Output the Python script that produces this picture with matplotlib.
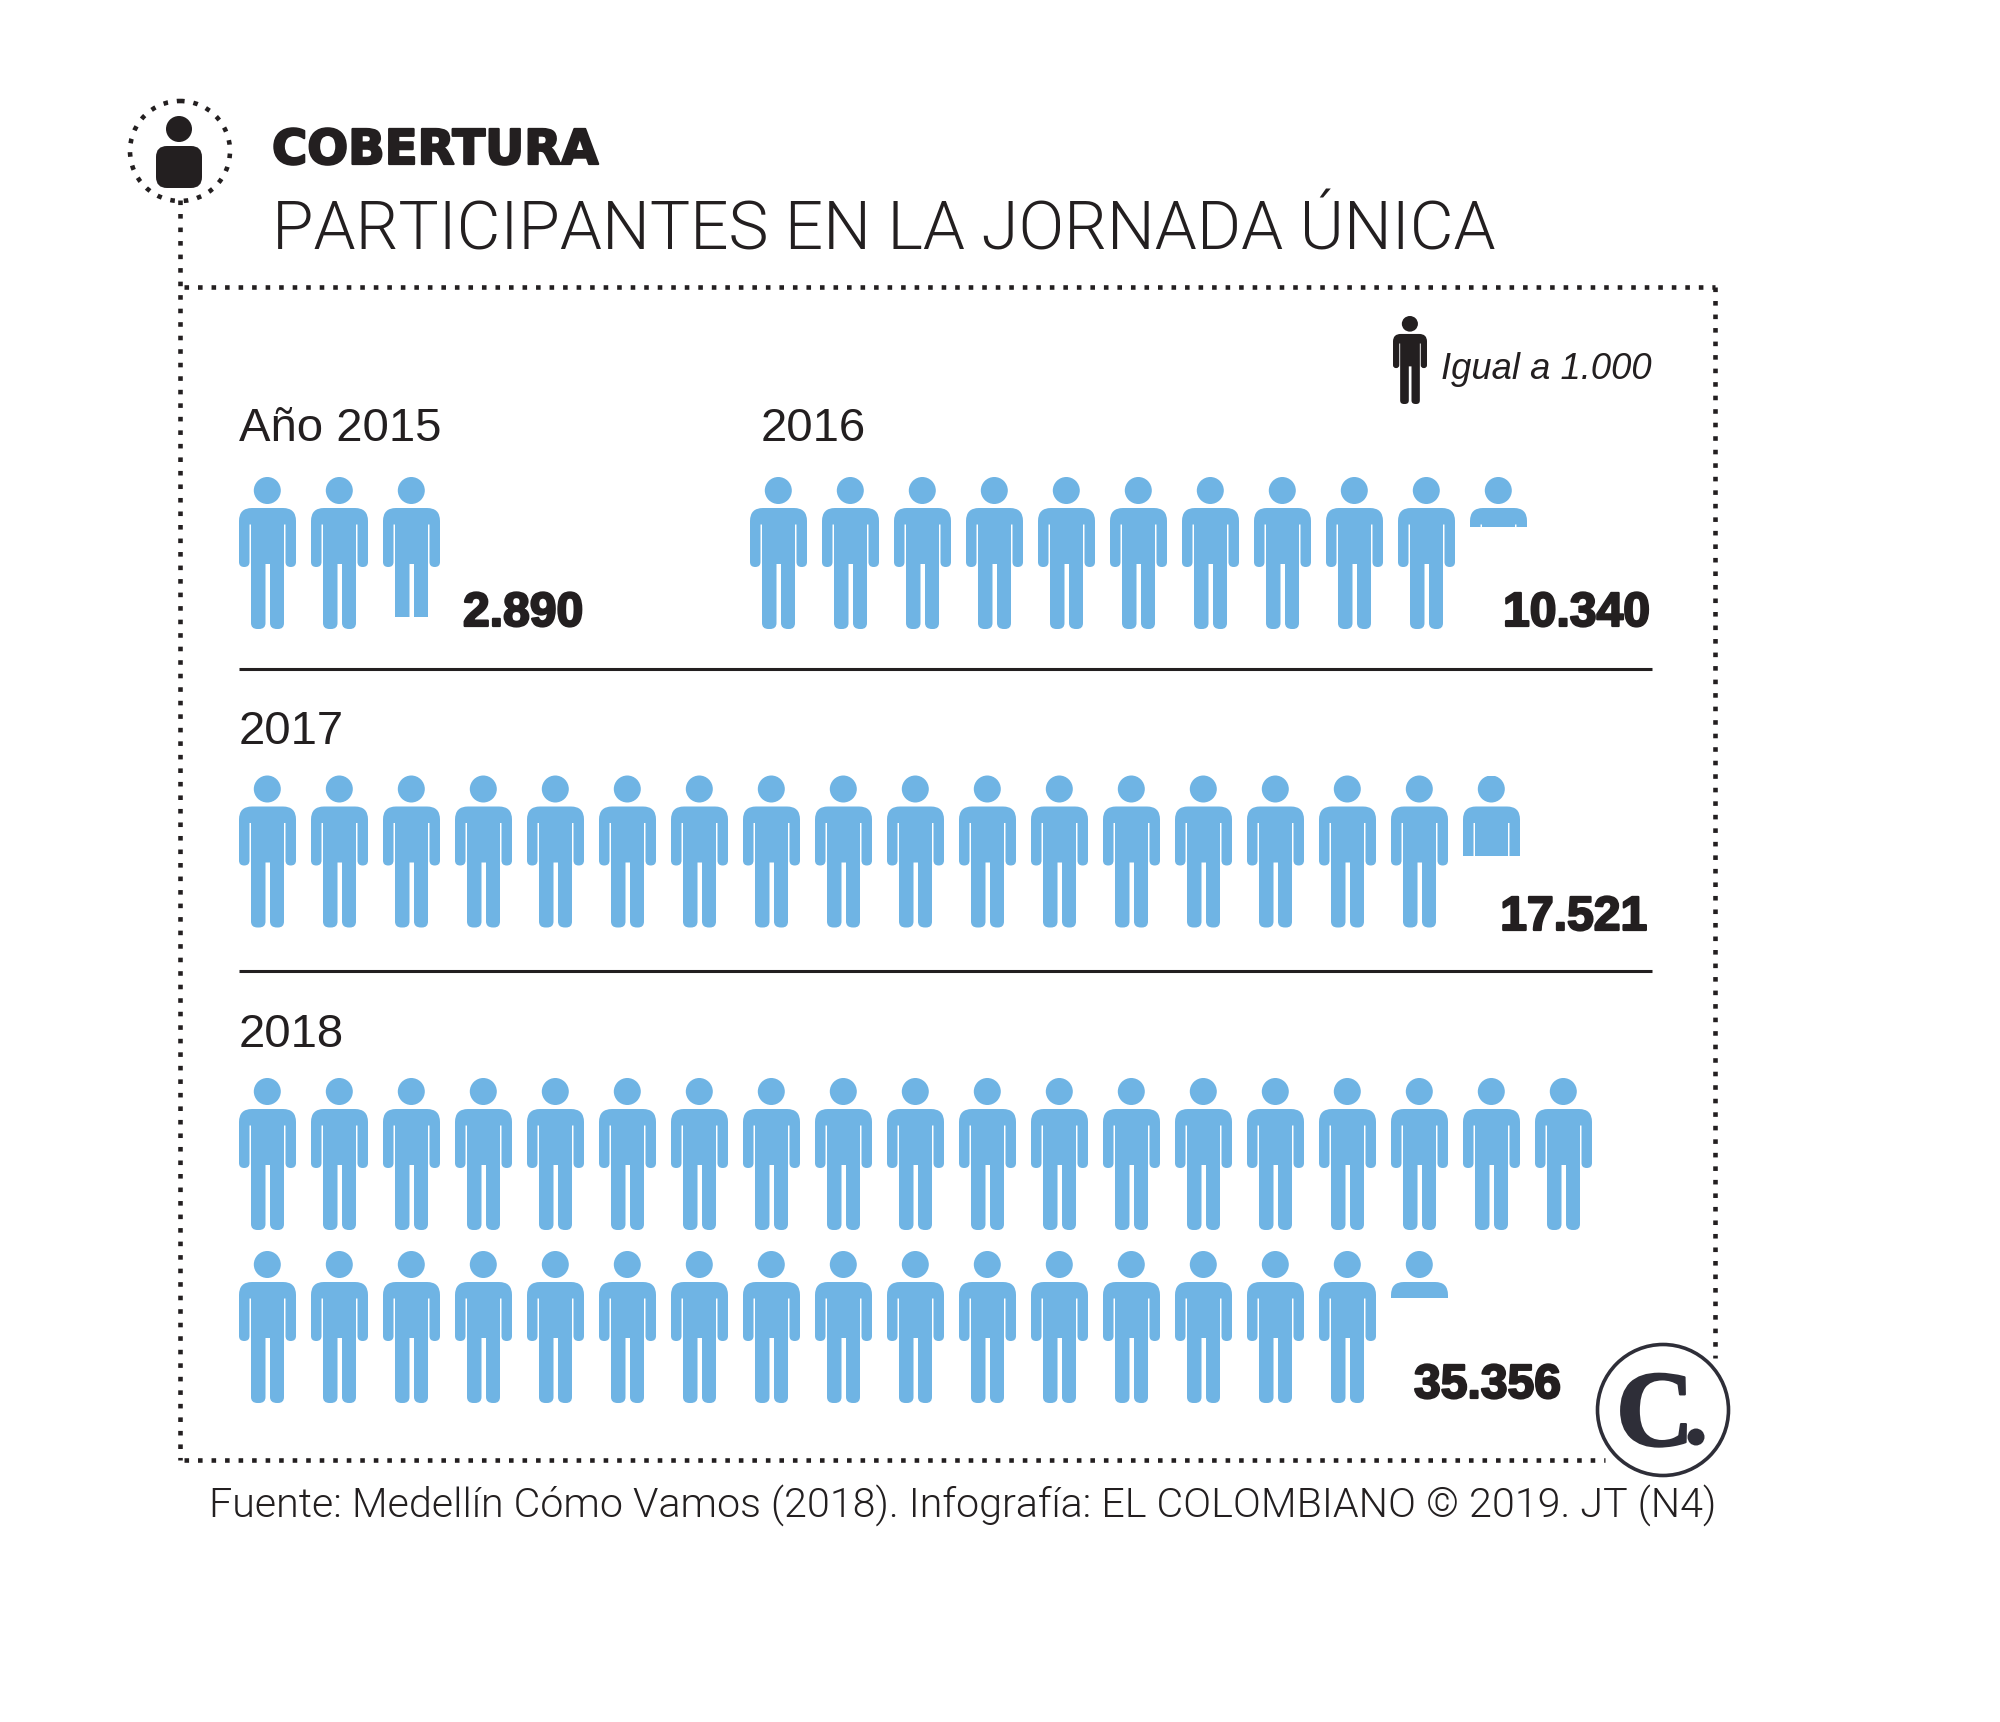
import matplotlib
matplotlib.use('Agg')
import matplotlib.pyplot as plt
import matplotlib.patheffects as pe
from matplotlib.patches import Circle, FancyBboxPatch, PathPatch, Rectangle
from matplotlib.path import Path
from matplotlib.transforms import Affine2D

# data
years = ['Año 2015', '2016', '2017', '2018']
values = [2890, 10340, 17521, 35356]
value_labels = ['2.890', '10.340', '17.521', '35.356']
# how much of the last icon is really painted in the original
last_icon_fill = [0.92, 0.33, 0.53, 0.31]
icons_per_line = 19
per_icon = 1000

title_top = 'COBERTURA'
title_main = 'PARTICIPANTES EN LA JORNADA ÚNICA'
legend_text = 'Igual a 1.000'
source = 'Fuente: Medellín Cómo Vamos (2018). Infografía: EL COLOMBIANO © 2019. JT (N4)'

BLUE = '#6fb4e4'
BLACK = '#231f20'
LOGO = '#2e2e38'
SANS = 'Liberation Sans'
ICON_W, ICON_H, STEP = 57, 152, 72
DOTS = (0, (1, 1.95))


def person_path():
    M, L, C, Z = Path.MOVETO, Path.LINETO, Path.CURVE3, Path.CLOSEPOLY
    body = [
        (M, 0, 44), (C, 0, 31), (C, 13, 31), (L, 44, 31), (C, 57, 31), (C, 57, 44),
        (L, 57, 85), (C, 57, 90), (C, 51.7, 90), (C, 46.5, 90), (C, 46.5, 85),
        (L, 46.5, 47.5), (L, 45, 47.5), (L, 45, 146), (C, 45, 152), (C, 39, 152),
        (L, 38, 152), (C, 31, 152), (C, 31, 146), (L, 31, 87), (L, 26.5, 87),
        (L, 26.5, 146), (C, 26.5, 152), (C, 20, 152), (L, 18.5, 152), (C, 12, 152),
        (C, 12, 146), (L, 12, 47.5), (L, 10.5, 47.5), (L, 10.5, 85), (C, 10.5, 90),
        (C, 5.2, 90), (C, 0, 90), (C, 0, 85), (L, 0, 44), (Z, 0, 44),
    ]
    codes = [b[0] for b in body]
    verts = [(b[1], b[2]) for b in body]
    head = Path.unit_circle().transformed(Affine2D().scale(13.5).translate(28.3, 13.5))
    return Path.make_compound_path(Path(verts, codes), head)


PERSON = person_path()


def draw_person(ax, x, y, fill=1.0, color=BLUE, sx=1.0, sy=1.0):
    tr = Affine2D().scale(sx, sy).translate(x, y) + ax.transData
    p = PathPatch(PERSON, facecolor=color, edgecolor='none', transform=tr)
    ax.add_patch(p)
    if fill < 1:
        clip = Rectangle((x - 2, y), ICON_W * sx + 4, ICON_H * sy * fill, transform=ax.transData)
        p.set_clip_path(clip)


def dotted(ax, xs, ys):
    ax.plot(xs, ys, color=BLACK, lw=1.65, linestyle=DOTS, dash_capstyle='butt')


fig = plt.figure(figsize=(10, 8.61), dpi=200)
ax = fig.add_axes([0, 0, 1, 1])
ax.set_xlim(0, 2000)
ax.set_ylim(1722, 0)
ax.axis('off')

# frame and header icon
dotted(ax, [180, 180], [200, 1460])
dotted(ax, [184, 1715], [287, 287])
dotted(ax, [1715, 1715], [287, 1358])
dotted(ax, [184, 1605], [1460, 1460])
ax.add_patch(Circle((180, 151), 50, fill=False, edgecolor=BLACK, lw=1.65, linestyle=DOTS))
ax.add_patch(Circle((179, 129), 13, facecolor=BLACK, edgecolor='none'))
ax.add_patch(FancyBboxPatch((166, 156), 26, 22, boxstyle='round,pad=10,rounding_size=11',
                            facecolor=BLACK, edgecolor='none'))

ax.text(272, 164, title_top, fontsize=17.3, fontweight='bold', family='DejaVu Sans', color=BLACK,
        va='baseline', path_effects=[pe.withStroke(linewidth=0.8, foreground=BLACK)])
ax.text(272, 250, title_main, fontsize=24.26, family='Roboto', fontweight=300, color=BLACK, va='baseline')

# legend
draw_person(ax, 1393, 316, color=BLACK, sx=34 / ICON_W, sy=88 / ICON_H)
ax.text(1441, 379, legend_text, fontsize=13.1, style='italic', family=SANS, color=BLACK, va='baseline')

# rows of people
row_tops = [477, 477, 775.5, 1078]
row_lefts = [239, 750, 239, 239]
line_gap = 173
year_pos = [(239, 441), (761, 441), (239, 744), (239, 1047)]
label_pos = [(583, 626), (1650, 626), (1647, 930), (1561, 1398)]

for i, v in enumerate(values):
    n_full = v // per_icon
    for k in range(n_full + 1):
        col = k % icons_per_line
        line = k // icons_per_line
        fill = 1.0 if k < n_full else last_icon_fill[i]
        draw_person(ax, row_lefts[i] + col * STEP, row_tops[i] + line * line_gap, fill=fill)
    ax.text(year_pos[i][0], year_pos[i][1], years[i], fontsize=17.0, family=SANS,
            color=BLACK, va='baseline')
    ax.text(label_pos[i][0], label_pos[i][1], value_labels[i], fontsize=17.3, fontweight='bold',
            family=SANS, color=BLACK, ha='right', va='baseline',
            path_effects=[pe.withStroke(linewidth=0.8, foreground=BLACK)])

for y in [669, 971]:
    ax.plot([239, 1652], [y, y], color=BLACK, lw=1.1, solid_capstyle='butt')

# logo
ax.add_patch(Circle((1663, 1410), 65.5, facecolor='white', edgecolor=LOGO, lw=1.3, zorder=4))
ax.text(1655, 1408, 'C', fontsize=39, fontweight='bold', family='Liberation Serif', color=LOGO,
        ha='center', va='center_baseline', zorder=5,
        path_effects=[pe.withStroke(linewidth=0.8, foreground=LOGO)])
ax.add_patch(Circle((1696, 1437), 8.5, facecolor=LOGO, edgecolor='none', zorder=5))

ax.text(209, 1517, source, fontsize=14.85, family='Roboto', fontweight=300, color=BLACK, va='baseline')

fig.savefig('out.png', dpi=200, facecolor='white')
